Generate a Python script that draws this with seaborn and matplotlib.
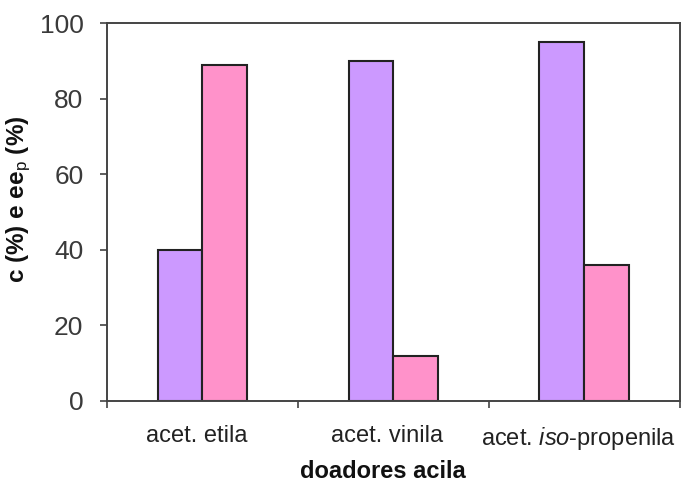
import matplotlib
matplotlib.use("Agg")
import matplotlib.pyplot as plt
import matplotlib.transforms as mtransforms
import seaborn as sns
import pandas as pd

categories = ["acet. etila", "acet. vinila", "acet. $\\it{iso}$-propenila"]
conversion = [40, 90, 95]           # c (%)
enantiomeric_excess = [89, 12, 36]  # ee_p (%)
y_ticks = [0, 20, 40, 60, 80, 100]

sns.set_theme(style="white")
plt.rcParams["font.family"] = ["Liberation Sans", "DejaVu Sans"]
plt.rcParams["mathtext.fontset"] = "custom"
plt.rcParams["mathtext.rm"] = "Liberation Sans"
plt.rcParams["mathtext.it"] = "Liberation Sans:italic"
plt.rcParams["mathtext.bf"] = "Liberation Sans:bold"

df = pd.DataFrame({
    "doador": categories * 2,
    "valor": conversion + enantiomeric_excess,
    "serie": ["c"] * 3 + ["ee"] * 3,
})

fig = plt.figure(figsize=(6.86, 4.83), dpi=100)
ax = fig.add_axes([0.156, 0.170, 0.835, 0.782])

sns.barplot(data=df, x="doador", y="valor", hue="serie",
            palette=["#CC99FF", "#FF92CA"], width=0.47,
            edgecolor="#222222", linewidth=1.5, saturation=1,
            legend=False, ax=ax)

ax.set_xlim(-0.5, 2.5)
ax.set_ylim(0, 100)
ax.set_yticks(y_ticks)
ax.tick_params(axis="y", labelsize=19, length=5, width=1.1,
               direction="out", left=True, pad=12, color="#333333",
               labelcolor="#3a3a3a")

# category labels centred, ticks at the group boundaries
ax.set_xticks([-0.5, 0.5, 1.5, 2.5])
ax.set_xticklabels([])
ax.set_xticks([0, 1, 2], minor=True)
ax.set_xticklabels(categories, minor=True)
ax.tick_params(axis="x", which="minor", length=0, labelsize=17, pad=17,
               labelcolor="#222222")
ax.tick_params(axis="x", which="major", length=5, width=1.1, direction="out",
               bottom=True, color="#333333")
nudge = mtransforms.ScaledTranslation(-0.06, 0, fig.dpi_scale_trans)
for lab in ax.get_xticklabels(minor=True):
    lab.set_transform(lab.get_transform() + nudge)

for side in ["left", "right", "top", "bottom"]:
    ax.spines[side].set_visible(True)
    ax.spines[side].set_color("#444444")
    ax.spines[side].set_linewidth(1.4)

ax.set_xlabel("doadores acila", fontsize=17, fontweight="bold",
              color="#111111")
ax.xaxis.set_label_coords(0.482, -0.156)
ax.set_ylabel("c (%) e ee$_\\mathrm{p}$ (%)", fontsize=17.5, fontweight="bold",
              color="#111111")
ax.yaxis.set_label_coords(-0.129, 0.534)
ax.grid(False)

fig.savefig("out.png", dpi=100)
